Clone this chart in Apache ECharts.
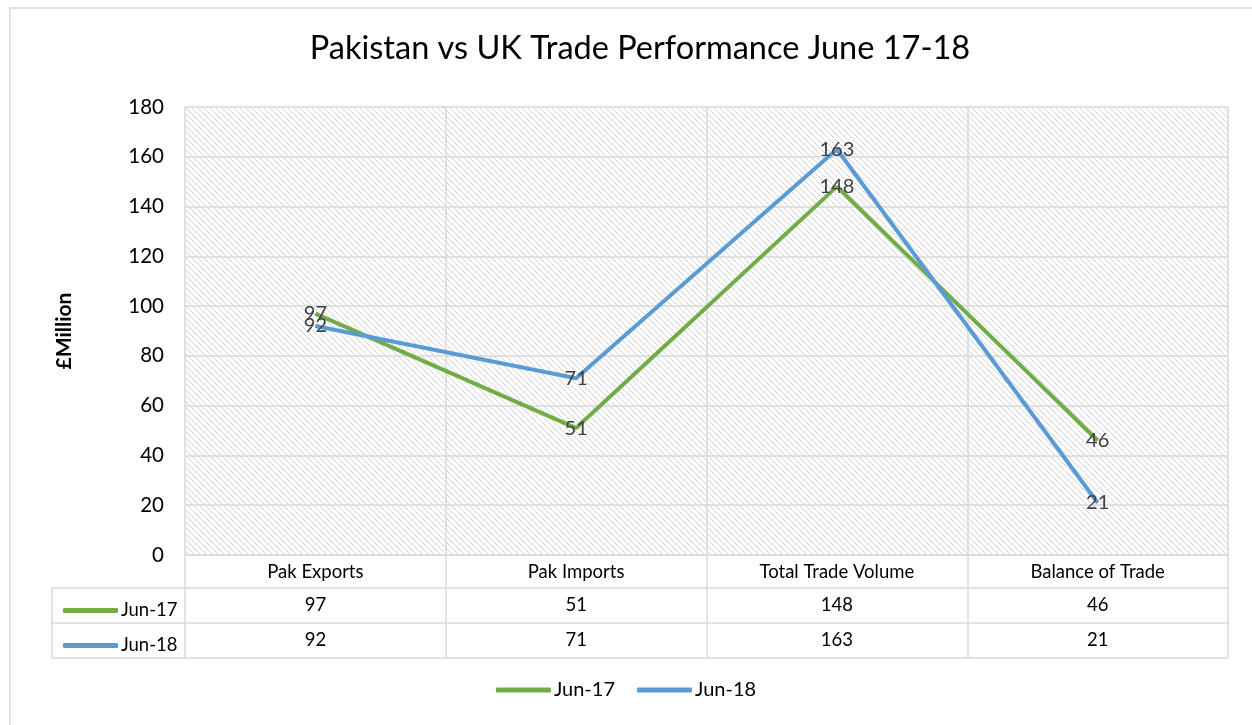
<!DOCTYPE html>
<html><head><meta charset="utf-8">
<script src="https://cdn.jsdelivr.net/npm/echarts@6/dist/echarts.min.js"></script>
<style>html,body{margin:0;padding:0;background:#fff}#c{width:1252px;height:725px}</style>
</head><body><div id="c"></div>
<script>
const categories = ['Pak Exports', 'Pak Imports', 'Total Trade Volume', 'Balance of Trade'];
const jun17 = [97, 51, 148, 46];
const jun18 = [92, 71, 163, 21];
const seriesNames = ['Jun-17', 'Jun-18'];
const colors = ['#70AD47', '#5B9BD5'];

const FONT = 'Lato, "Open Sans", sans-serif';
const gridCol = '#d9d9d9';

// hatch pattern
const pc = document.createElement('canvas');
pc.width = 6; pc.height = 6;
const px = pc.getContext('2d');
px.fillStyle = '#ffffff'; px.fillRect(0, 0, 6, 6);
px.strokeStyle = '#d4d4d4'; px.lineWidth = 1;
px.beginPath();
px.moveTo(-1, -1); px.lineTo(7, 7);
px.moveTo(-4, 2); px.lineTo(4, 10);
px.moveTo(2, -4); px.lineTo(10, 4);
px.stroke();

const chart = echarts.init(document.getElementById('c'), null, {renderer: 'canvas'});

function rowAxis(data, offset, showLabel) {
  return {
    type: 'category', data: data, position: 'bottom', offset: offset, gridIndex: 0,
    boundaryGap: true,
    axisLine: {show: true, lineStyle: {color: gridCol, width: 1.5}},
    axisTick: {show: false},
    axisLabel: {show: showLabel, color: '#000', fontSize: 18.5, fontFamily: FONT, margin: 8},
    splitLine: {show: false}
  };
}

const lineSeries = seriesNames.map((n, i) => ({
  name: n, type: 'line', data: i === 0 ? jun17 : jun18,
  symbol: 'circle', symbolSize: 1, showSymbol: true,
  lineStyle: {color: colors[i], width: 4},
  itemStyle: {color: colors[i]},
  label: {show: true, position: 'inside', color: '#404040', fontSize: 20, fontFamily: FONT},
  z: 3 + i
}));

chart.setOption({
  animation: false,
  backgroundColor: '#fff',
  title: {
    text: 'Pakistan vs UK Trade Performance June 17-18',
    left: 'center', top: 27, left: 635,
    textAlign: 'center',
    textStyle: {fontSize: 32.5, fontWeight: 'normal', color: '#000', fontFamily: FONT}
  },
  grid: {
    left: 185, right: 24, top: 107, bottom: 170,
    show: true, borderWidth: 0,
    backgroundColor: {image: pc, repeat: 'repeat'}
  },
  legend: [
    {
      data: seriesNames, bottom: 20, left: 'center',
      icon: 'roundRect', itemWidth: 55, itemHeight: 5, itemGap: 22,
      textStyle: {fontSize: 20, color: '#000', fontFamily: FONT, padding: [0, 0, 0, -2]}
    },
    {
      data: seriesNames, left: 58, top: 596, orient: 'vertical',
      icon: 'roundRect', itemWidth: 55, itemHeight: 5, itemGap: 16,
      selectedMode: false,
      textStyle: {fontSize: 18.5, color: '#000', fontFamily: FONT, padding: [0, 0, 0, -2]}
    }
  ],
  xAxis: [
    {
      type: 'category', data: categories, boundaryGap: true,
      axisLine: {show: true, lineStyle: {color: gridCol, width: 1.5}},
      axisTick: {show: true, length: 103, lineStyle: {color: gridCol, width: 1.5}},
      axisLabel: {color: '#000', fontSize: 18.5, fontFamily: FONT, margin: 8},
      splitLine: {show: true, lineStyle: {color: gridCol, width: 1.5}}
    },
    rowAxis(jun17.map(String), 33, true),
    rowAxis(jun18.map(String), 68, true),
    rowAxis(categories, 103, false)
  ],
  yAxis: {
    type: 'value', min: 0, max: 180, interval: 20,
    name: '£Million', nameLocation: 'middle', nameGap: 110, nameRotate: 90,
    nameTextStyle: {fontSize: 21, fontWeight: 'bold', color: '#000', fontFamily: FONT},
    axisLine: {show: false}, axisTick: {show: false},
    axisLabel: {color: '#000', fontSize: 20.5, fontFamily: FONT, margin: 21},
    splitLine: {show: true, lineStyle: {color: gridCol, width: 1.5}}
  },
  series: lineSeries,
  graphic: [
    {type: 'rect', shape: {x: 10, y: 8, width: 1250, height: 730}, style: {fill: 'none', stroke: '#d9d9d9', lineWidth: 1.5}, silent: true},
    {type: 'polyline', shape: {points: [[185, 588], [52, 588], [52, 658], [185, 658]]}, style: {fill: 'none', stroke: gridCol, lineWidth: 1.5}, silent: true},
    {type: 'line', shape: {x1: 52, y1: 623, x2: 185, y2: 623}, style: {stroke: gridCol, lineWidth: 1.5}, silent: true}
  ]
});
</script></body></html>
